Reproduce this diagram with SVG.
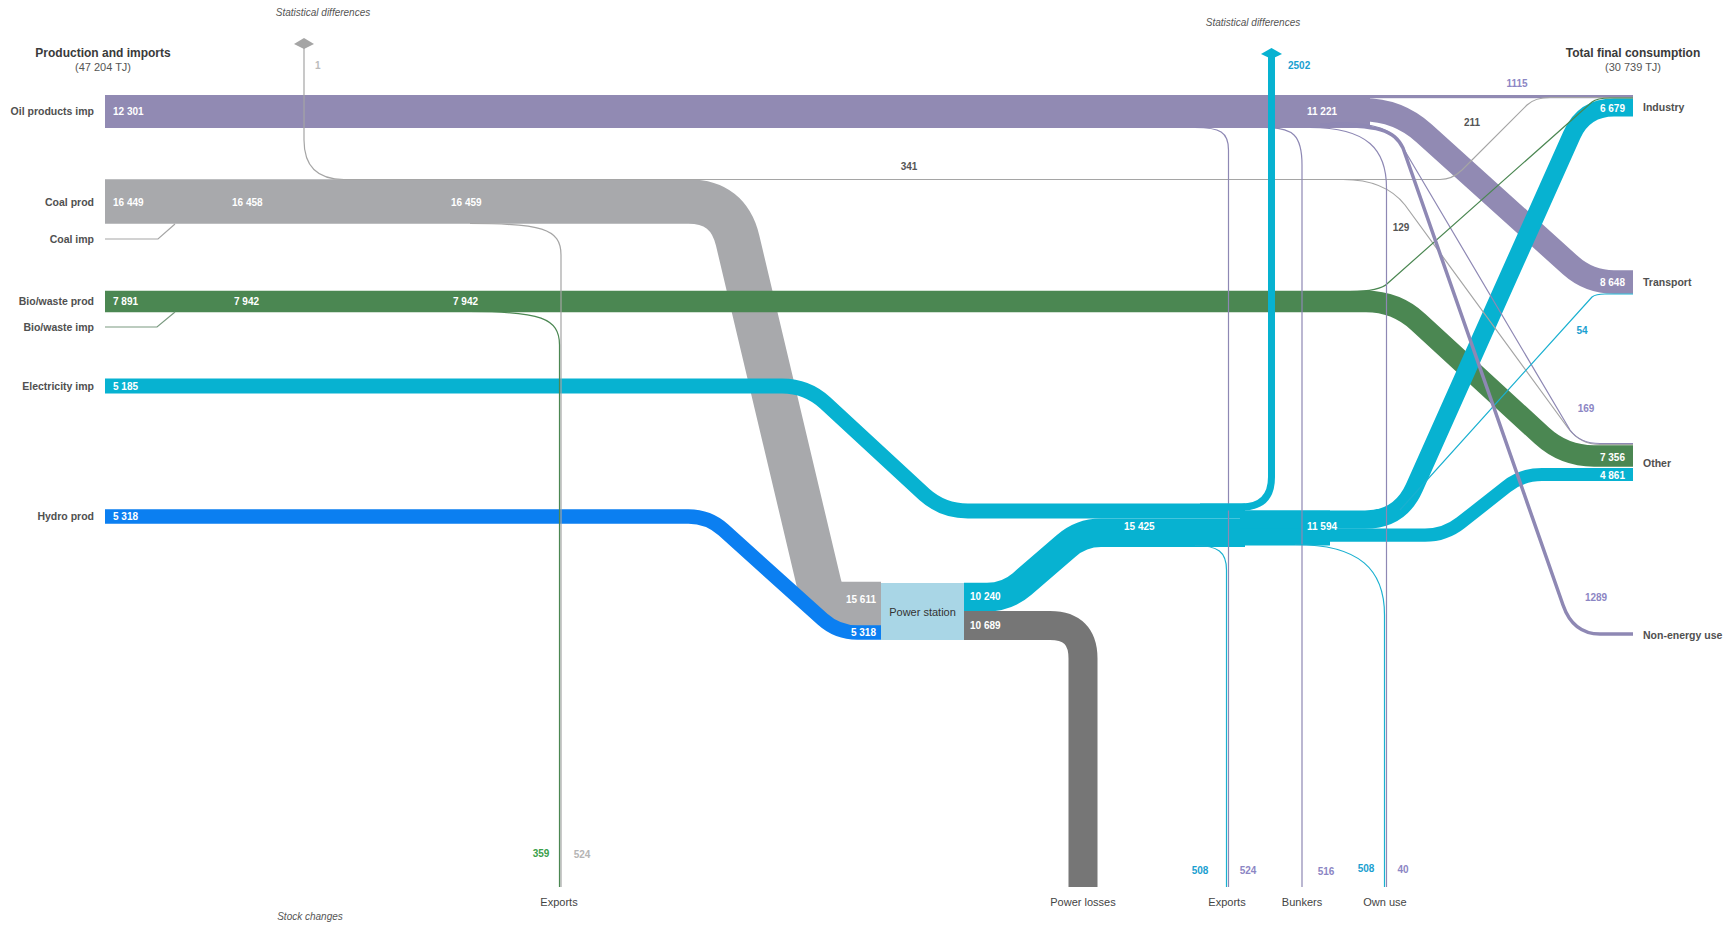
<svg xmlns="http://www.w3.org/2000/svg" width="1726" height="926" viewBox="0 0 1726 926">
<style>
.t{font-family:"Liberation Sans",Arial,sans-serif}
.hd{font-size:12px;font-weight:bold;fill:#3a3a3a;text-anchor:middle}
.sub{font-size:11px;fill:#555;text-anchor:middle}
.it{font-size:10px;font-style:italic;fill:#555;text-anchor:middle}
.ll{font-size:10.5px;font-weight:bold;fill:#505050;text-anchor:end}
.rl{font-size:10.5px;font-weight:bold;fill:#505050}
.bl{font-size:11px;fill:#444;text-anchor:middle}
.v{font-size:10px;font-weight:bold;fill:#fff}
.ve{font-size:10px;font-weight:bold;fill:#fff;text-anchor:end}
.n{font-size:10px;font-weight:bold}
.rib{fill:none;stroke-linejoin:round}
.thin{fill:none;stroke-width:1.2}
</style>
<rect width="1726" height="926" fill="#fff"/>

<!-- headers -->
<g id="headers" class="t">
<text class="t hd" x="103" y="57">Production and imports</text>
<text class="t sub" x="103" y="71">(47 204 TJ)</text>
<text class="t hd" x="1633" y="57">Total final consumption</text>
<text class="t sub" x="1633" y="71">(30 739 TJ)</text>
<text class="t it" x="323" y="16">Statistical differences</text>
<text class="t it" x="1253" y="26">Statistical differences</text>
<text class="t it" x="310" y="920">Stock changes</text>
</g>

<g id="connectors">
<!-- coal -->
<path class="rib" stroke="#a8a9ac" stroke-width="44.5" d="M105,201.5 L688.4,201.5 Q728.4,201.5 737.6,240.4 L819.2,584.5 Q823.8,604 843.8,604 L881,604"/>
<!-- oil base -->
<rect x="105" y="95" width="1265" height="33" fill="#918ab3"/>
<rect x="1360" y="95" width="273" height="3.2" fill="#918ab3"/>
<!-- bio -->
<path class="rib" stroke="#4b8752" stroke-width="21.5" d="M105,301.5 L1366,301.5 Q1396,301.5 1418.1,321.8 L1541.9,435.7 Q1564,456 1594,456 L1633,456"/>
<!-- electricity imports -->
<path class="rib" stroke="#07b2d1" stroke-width="15" d="M105,386 L782,386 Q807,386 825.4,403 L924.4,494.5 Q942.8,511 967.8,511 L1245,511"/>
<!-- hydro -->
<path class="rib" stroke="#0b7ff1" stroke-width="14.5" d="M105,516.5 L688.5,516.5 Q708.5,516.5 723.4,529.9 L822.5,619.1 Q837.4,632.5 857.4,632.5 L881,632.5"/>
<!-- power station electricity out -->
<path class="rib" stroke="#07b2d1" stroke-width="28.5" d="M964,597 L987,597 Q1007,597 1022.1,583.9 L1065.9,546.1 Q1081,532.75 1101,532.75 L1245,532.75"/>
<rect x="1240" y="510.5" width="90" height="35" fill="#07b2d1"/>
<!-- power losses -->
<path class="rib" stroke="#767676" stroke-width="29" d="M964,625.5 L1050,625.5 Q1083,625.5 1083,658.5 L1083,887"/>
<!-- oil to transport -->
<path class="rib" stroke="#918ab3" stroke-width="23.5" d="M1300,109.75 L1363,109.75 Q1398,109.75 1424,133.2 L1570.4,265.3 Q1589,282 1614,282 L1633,282"/>
<!-- electricity to industry -->
<path class="rib" stroke="#07b2d1" stroke-width="18.2" d="M1240,519.6 L1365,519.6 Q1400,519.6 1414.3,487.6 L1571.8,135 Q1584,107.5 1614,107.5 L1633,107.5"/>
<!-- electricity to other -->
<path class="rib" stroke="#07b2d1" stroke-width="13.2" d="M1240,535.2 L1425,535.2 Q1445,535.2 1460.7,522.8 L1506.3,486.9 Q1522,474.5 1542,474.5 L1633,474.5"/>

<!-- thin flows -->
<path class="thin" stroke="#a5a5a5" d="M304,48 L304,140 Q304,179.5 344,179.5 L1440,179.5 Q1452,179.5 1462,170 L1527,105 Q1535,97.5 1550,97.5 L1633,97.5"/>
<path class="thin" stroke="#a5a5a5" d="M1343,179.5 Q1385,179.5 1405,205 L1568,428 Q1580,444.5 1600,444.5 L1633,444.5"/>
<path class="thin" stroke="#8e88b4" d="M1330,122.5 C1380,122.5 1392,130 1402,146 L1570,430 Q1580,443.5 1600,443.5 L1633,443.5"/>
<path class="thin" stroke="#4b8752" d="M1350,291.5 Q1380,291.5 1388,283 L1592,102 Q1597,98 1610,98 L1633,98"/>
<path class="thin" stroke="#1ab0d0" d="M1400,510 L1592,297 Q1596,294 1605,294 L1633,294"/>
<path class="thin" stroke="#a5a5a5" d="M470,223.5 C540,223.5 561,228 561,255 L561,887"/>
<path class="thin" stroke="#4b8752" d="M470,311.5 C540,311.5 559.5,318 559.5,345 L559.5,887"/>
<path class="thin" stroke="#8e88b4" d="M1195,127.5 C1220,127.5 1228.5,132 1228.5,150 L1228.5,887"/>
<path class="thin" stroke="#8e88b4" d="M1265,127.5 C1293,127.5 1302,135 1302,165 L1302,887"/>
<path class="thin" stroke="#8e88b4" d="M1310,127.5 C1368,127.5 1386.5,150 1386.5,188 L1386.5,887"/>
<path class="thin" stroke="#1ab0d0" stroke-width="1.6" d="M1195,545.5 C1218,545.5 1226.5,552 1226.5,570 L1226.5,887"/>
<path class="thin" stroke="#1ab0d0" stroke-width="1.6" d="M1295,544.5 C1360,544.5 1384.5,570 1384.5,615 L1384.5,887"/>
<path class="rib" stroke="#8e88b4" stroke-width="3.5" d="M1320,125 C1380,125 1394,130 1403,148 L1563,605 Q1573,634 1600,634 L1633,634"/>
<!-- statistical differences (electricity) -->
<path class="rib" stroke="#07b2d1" stroke-width="7" d="M1200,507 L1241.5,507 Q1271.5,507 1271.5,477 L1271.5,57"/>
<polygon points="1271.5,48 1282,54 1271.5,59 1261,54" fill="#07b2d1"/>
<polygon points="304,38 314,44 304,49 294,44" fill="#a5a5a5"/>
<!-- small imports -->
<path class="thin" stroke="#a5a5a5" d="M105,239 L158,239 L175,224"/>
<path class="thin" stroke="#7a9a80" d="M105,327 L157,327 L175,312"/>
</g>

<g id="power-station">
<rect x="881" y="583" width="83" height="57" fill="#a9d6e6"/>
<text class="t" x="922.5" y="611.5" font-size="11" fill="#333" text-anchor="middle" dominant-baseline="central">Power station</text>
</g>

<g id="node-labels" class="t" dominant-baseline="central">
<text class="t ll" x="94" y="111">Oil products imp</text>
<text class="t ll" x="94" y="202">Coal prod</text>
<text class="t ll" x="94" y="239">Coal imp</text>
<text class="t ll" x="94" y="301">Bio/waste prod</text>
<text class="t ll" x="94" y="327">Bio/waste imp</text>
<text class="t ll" x="94" y="386">Electricity imp</text>
<text class="t ll" x="94" y="516">Hydro prod</text>
<text class="t rl" x="1643" y="107">Industry</text>
<text class="t rl" x="1643" y="282">Transport</text>
<text class="t rl" x="1643" y="463">Other</text>
<text class="t rl" x="1643" y="635">Non-energy use</text>
<text class="t bl" x="559" y="902">Exports</text>
<text class="t bl" x="1083" y="902">Power losses</text>
<text class="t bl" x="1227" y="902">Exports</text>
<text class="t bl" x="1302" y="902">Bunkers</text>
<text class="t bl" x="1385" y="902">Own use</text>
</g>

<g id="values" class="t" dominant-baseline="central">
<text class="t v" x="113" y="111">12 301</text>
<text class="t v" x="113" y="202">16 449</text>
<text class="t v" x="232" y="202">16 458</text>
<text class="t v" x="451" y="202">16 459</text>
<text class="t v" x="113" y="301">7 891</text>
<text class="t v" x="234" y="301">7 942</text>
<text class="t v" x="453" y="301">7 942</text>
<text class="t v" x="113" y="386">5 185</text>
<text class="t v" x="113" y="516">5 318</text>
<text class="t ve" x="876" y="599">15 611</text>
<text class="t ve" x="876" y="632">5 318</text>
<text class="t v" x="970" y="596">10 240</text>
<text class="t v" x="970" y="625">10 689</text>
<text class="t v" x="1124" y="526">15 425</text>
<text class="t v" x="1307" y="526">11 594</text>
<text class="t v" x="1307" y="111">11 221</text>
<text class="t ve" x="1625" y="108">6 679</text>
<text class="t ve" x="1625" y="282">8 648</text>
<text class="t ve" x="1625" y="457">7 356</text>
<text class="t ve" x="1625" y="475">4 861</text>
<text class="t n" x="315" y="65" fill="#bbb">1</text>
<text class="t n" x="909" y="166" fill="#555" text-anchor="middle">341</text>
<text class="t n" x="1288" y="65" fill="#1aa0d0">2502</text>
<text class="t n" x="1517" y="83" fill="#8c86c4" text-anchor="middle">1115</text>
<text class="t n" x="1472" y="122" fill="#555" text-anchor="middle">211</text>
<text class="t n" x="1401" y="227" fill="#555" text-anchor="middle">129</text>
<text class="t n" x="1582" y="330" fill="#1aa0d0" text-anchor="middle">54</text>
<text class="t n" x="1586" y="408" fill="#8c86c4" text-anchor="middle">169</text>
<text class="t n" x="1596" y="597" fill="#8c86c4" text-anchor="middle">1289</text>
<text class="t n" x="541" y="853" fill="#3aa04a" text-anchor="middle">359</text>
<text class="t n" x="582" y="854" fill="#b5b5b5" text-anchor="middle">524</text>
<text class="t n" x="1200" y="870" fill="#1aa0d0" text-anchor="middle">508</text>
<text class="t n" x="1248" y="870" fill="#8c86c4" text-anchor="middle">524</text>
<text class="t n" x="1326" y="871" fill="#8c86c4" text-anchor="middle">516</text>
<text class="t n" x="1366" y="868" fill="#1aa0d0" text-anchor="middle">508</text>
<text class="t n" x="1403" y="869" fill="#8c86c4" text-anchor="middle">40</text>
</g>
</svg>
